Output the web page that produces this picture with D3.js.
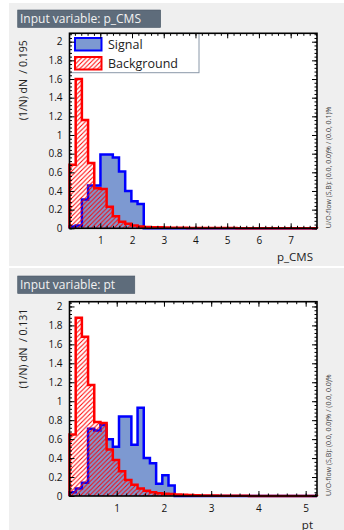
<!DOCTYPE html>

<head>
    <meta charset="utf-8">
    <script src="https://d3js.org/d3.v7.min.js"></script>
    <style>
        body { margin: 0; background: #fff; }
        text { font-family: "Open Sans", sans-serif; }
    </style>
</head>

<body>
    <script>
        let width = 344,
            height = 530

        ////////////// Data //////////////

        //p_CMS: 40 bins of 0.195
        const pcmsRange = [0.03, 7.83]
        const pcmsSignal = [0.02, 0.03, 0.31, 0.46, 0.46, 0.79, 0.79, 0.76, 0.61, 0.40,
            0.29, 0.26, 0, 0, 0, 0, 0, 0, 0, 0,
            0, 0, 0, 0, 0, 0, 0, 0, 0, 0,
            0, 0, 0, 0, 0, 0, 0, 0, 0, 0]
        const pcmsBackground = [0.68, 1.60, 1.16, 0.70, 0.43, 0.42, 0.23, 0.13, 0.07, 0.05,
            0.03, 0.02, 0.015, 0.012, 0.01, 0.008, 0.007, 0.006, 0.005, 0.004,
            0.004, 0.003, 0.003, 0.002, 0.002, 0.002, 0.002, 0.001, 0.001, 0.001,
            0.001, 0.001, 0.001, 0.001, 0.001, 0.001, 0.001, 0.001, 0.001, 0.001]
        const pcmsXTicks = [1, 2, 3, 4, 5, 6, 7]

        //pt: 40 bins of 0.131
        const ptRange = [0, 5.24]
        const ptSignal = [0.04, 0.08, 0.14, 0.71, 0.69, 0.75, 0.60, 0.52, 0.84, 0.84,
            0.54, 0.93, 0.40, 0.345, 0.13, 0.22, 0.11, 0, 0, 0,
            0, 0, 0, 0, 0, 0, 0, 0, 0, 0,
            0, 0, 0, 0, 0, 0, 0, 0, 0, 0]
        const ptBackground = [0.65, 1.88, 1.68, 1.17, 0.78, 0.77, 0.49, 0.38, 0.26, 0.17,
            0.12, 0.08, 0.056, 0.04, 0.03, 0.025, 0.02, 0.015, 0.012, 0.01,
            0.008, 0.006, 0.005, 0.004, 0.003, 0.003, 0.002, 0.002, 0.002, 0.001,
            0.001, 0.001, 0.001, 0.001, 0.001, 0.001, 0.001, 0.001, 0.001, 0.001]
        const ptXTicks = [1, 2, 3, 4, 5]

        const yTicks = [0, 0.2, 0.4, 0.6, 0.8, 1, 1.2, 1.4, 1.6, 1.8, 2]

        const sigFill = "#7d99d1",
            sigLine = "#0000ff",
            bkgLine = "#ff0000"

        ////////////// SVG //////////////

        let svg = d3.select("body")
            .append("svg")
            .attr("width", width)
            .attr("height", height)

        //hatch for the background histogram
        svg.append("defs").append("pattern")
            .attr("id", "hatch")
            .attr("patternUnits", "userSpaceOnUse")
            .attr("width", 4.5)
            .attr("height", 4.5)
            .append("path")
            .attr("d", "M-1,1 L1,-1 M0,4.5 L4.5,0 M3.5,5.5 L5.5,3.5")
            .attr("stroke", bkgLine)
            .attr("stroke-width", 1)

        function drawPanel(p) {
            let g = svg.append("g")

            //grey canvas
            g.append("rect")
                .attr("x", 9).attr("y", p.canvas[0])
                .attr("width", width - 9).attr("height", p.canvas[1] - p.canvas[0])
                .attr("fill", "#efefef")

            //title box
            let title = g.append("text")
                .attr("x", 20).attr("y", p.titleY + 13)
                .attr("fill", "#f2f2f2")
                .style("font-size", "12px")
                .text(p.title)
            let tw = title.node().getComputedTextLength()
            g.insert("rect", "text")
                .attr("x", 17.7).attr("y", p.titleY)
                .attr("width", tw + 22).attr("height", 17.5)
                .attr("fill", "#5e6c7b")
                .attr("stroke", "#4a5866")
                .attr("stroke-width", 0.6)

            const x = d3.scaleLinear().domain(p.xRange).range([69.5, 317])
            const y = d3.scaleLinear().domain([0, p.yMax]).range([p.frame[1], p.frame[0]])

            g.append("rect")
                .attr("x", 69.5).attr("y", p.frame[0])
                .attr("width", 317 - 69.5).attr("height", p.frame[1] - p.frame[0])
                .attr("fill", "#ffffff")

            //histograms
            const edges = d3.range(p.signal.length + 1).map(i => p.xRange[0] + i * p.bin)
            const pts = vals => edges.map((e, i) => [e, vals[Math.min(i, vals.length - 1)]])

            const area = d3.area()
                .curve(d3.curveStepAfter)
                .x(d => x(d[0]))
                .y0(y(0))
                .y1(d => y(d[1]))

            const outline = vals => {
                let ps = pts(vals)
                let path = d3.path()
                path.moveTo(x(ps[0][0]), y(0))
                ps.forEach((d, i) => {
                    if (i < ps.length - 1) {
                        path.lineTo(x(d[0]), y(d[1]))
                        path.lineTo(x(ps[i + 1][0]), y(d[1]))
                    }
                })
                path.lineTo(x(ps[ps.length - 1][0]), y(0))
                return path.toString()
            }

            g.append("path")
                .attr("d", area(pts(p.signal)))
                .attr("fill", sigFill)
            g.append("path")
                .attr("d", outline(p.signal))
                .attr("fill", "none")
                .attr("stroke", sigLine)
                .attr("stroke-width", 2.5)
                .attr("stroke-linejoin", "miter")

            g.append("path")
                .attr("d", area(pts(p.background)))
                .attr("fill", "url(#hatch)")
            g.append("path")
                .attr("d", outline(p.background))
                .attr("fill", "none")
                .attr("stroke", bkgLine)
                .attr("stroke-width", 2.5)
                .attr("stroke-linejoin", "miter")

            //legend
            if (p.legend) {
                g.append("rect")
                    .attr("x", 69.5).attr("y", p.frame[0])
                    .attr("width", 129.5).attr("height", 39.4)
                    .attr("fill", "#ffffff")
                    .attr("stroke", "#8a98a8")
                    .attr("stroke-width", 1)
                g.append("rect")
                    .attr("x", 75).attr("y", 38)
                    .attr("width", 26.5).attr("height", 12.5)
                    .attr("fill", sigFill)
                    .attr("stroke", sigLine).attr("stroke-width", 2)
                g.append("rect")
                    .attr("x", 75).attr("y", 57)
                    .attr("width", 26.5).attr("height", 12.5)
                    .attr("fill", "url(#hatch)")
                    .attr("stroke", bkgLine).attr("stroke-width", 2)
                g.append("text")
                    .attr("x", 108).attr("y", 48.5)
                    .attr("fill", "#222")
                    .style("font-size", "12.5px")
                    .text("Signal")
                g.append("text")
                    .attr("x", 108).attr("y", 67.5)
                    .attr("fill", "#222")
                    .style("font-size", "12.5px")
                    .text("Background")
            }

            //axes: ticks on all four sides, pointing inward
            const xMinor = d3.range(Math.ceil(p.xRange[0] * 5), Math.floor(p.xRange[1] * 5) + 1).map(i => i / 5)
            const yMinor = d3.range(0, Math.floor(p.yMax * 25) + 1).map(i => i / 25)

            const addAxis = (axis, tr, vals, size, labels) => {
                let a = g.append("g")
                    .attr("transform", tr)
                    .call(axis.tickValues(vals).tickSize(-size).tickPadding(labels ? 7 : 0)
                        .tickFormat(labels ? d3.format("~g") : ""))
                a.select(".domain").remove()
                a.selectAll("line").attr("stroke", "#000").attr("stroke-width", 1)
                a.selectAll("text").style("font-size", "10px").attr("fill", "#111")
                return a
            }

            addAxis(d3.axisLeft(y), "translate(69.5,0)", yMinor, 2.5, false)
            addAxis(d3.axisLeft(y), "translate(69.5,0)", yTicks, 5, true)
            addAxis(d3.axisRight(y), "translate(317,0)", yMinor, 2.5, false)
            addAxis(d3.axisRight(y), "translate(317,0)", yTicks, 5, false)
            addAxis(d3.axisBottom(x), `translate(0,${p.frame[1]})`, xMinor, 2.5, false)
            addAxis(d3.axisBottom(x), `translate(0,${p.frame[1]})`, p.xTicks, 5, true)
                .selectAll("text").attr("dy", "0.9em")
            addAxis(d3.axisTop(x), `translate(0,${p.frame[0]})`, xMinor, 2.5, false)
            addAxis(d3.axisTop(x), `translate(0,${p.frame[0]})`, p.xTicks, 5, false)

            g.append("rect")
                .attr("x", 69.5).attr("y", p.frame[0])
                .attr("width", 317 - 69.5).attr("height", p.frame[1] - p.frame[0])
                .attr("fill", "none")
                .attr("stroke", "#000")
                .attr("stroke-width", 1.6)

            //axis titles
            g.append("text")
                .attr("transform", `translate(27,${p.frame[0] + 7}) rotate(-90)`)
                .attr("text-anchor", "end")
                .attr("fill", "#222")
                .style("font-size", "10.5px")
                .style("white-space", "pre")
                .text(p.yTitle)
            g.append("text")
                .attr("x", 313).attr("y", p.frame[1] + 32.5)
                .attr("text-anchor", "end")
                .attr("fill", "#222")
                .style("font-size", "11.5px")
                .text(p.xTitle)
            g.append("text")
                .attr("transform", `translate(331,${p.frame[1]}) rotate(-90)`)
                .attr("fill", "#444")
                .style("font-size", "7px")
                .text(p.uoText)
        }

        drawPanel({
            canvas: [3, 266], titleY: 10, frame: [33.3, 228.3],
            title: "Input variable: p_CMS", xTitle: "p_CMS",
            yTitle: "(1/N) dN  / 0.195",
            uoText: "U/O-flow (S,B): (0.0, 0.0)% / (0.0, 0.1)%",
            xRange: pcmsRange, bin: 0.195, yMax: 2.09, xTicks: pcmsXTicks,
            signal: pcmsSignal, background: pcmsBackground, legend: true
        })

        drawPanel({
            canvas: [268, 530], titleY: 276, frame: [301.7, 496],
            title: "Input variable: pt", xTitle: "pt",
            yTitle: "(1/N) dN  / 0.131",
            uoText: "U/O-flow (S,B): (0.0, 0.0)% / (0.0, 0.0)%",
            xRange: ptRange, bin: 0.131, yMax: 2.05, xTicks: ptXTicks,
            signal: ptSignal, background: ptBackground, legend: false
        })
    </script>
</body>
